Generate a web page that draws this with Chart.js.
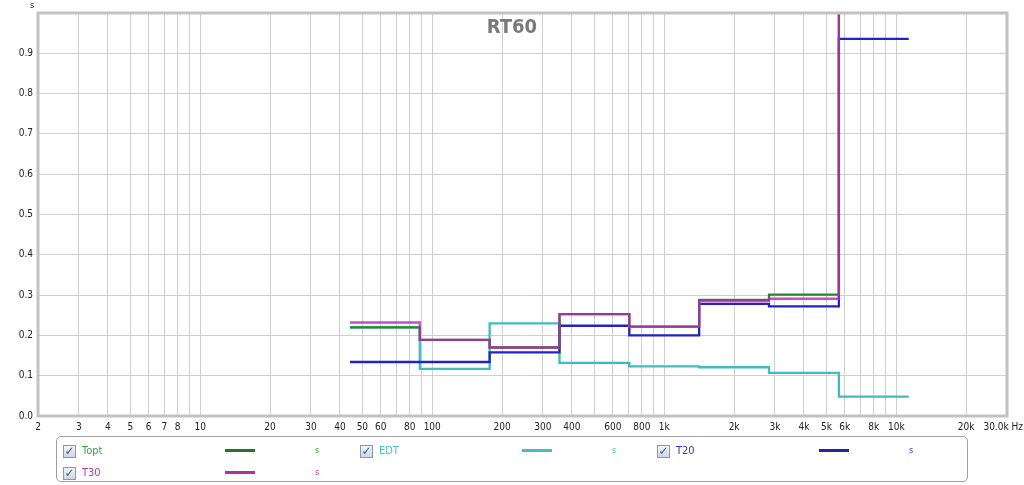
<!DOCTYPE html>
<html>
<head>
<meta charset="utf-8">
<title>RT60</title>
<script src="https://cdn.jsdelivr.net/npm/chart.js@4.4.1/dist/chart.umd.min.js"></script>
<style>
    html, body { margin: 0; padding: 0; background: #fff; }
    #wrap { position: relative; width: 1024px; height: 485px; overflow: hidden; }
    #chartRT60 { position: absolute; left: 0; top: 0; }
    .leyenda {
        position: absolute; left: 56px; top: 436px; width: 912px; height: 46px;
        border: 1px solid #a0a0a0; border-radius: 5px; box-sizing: border-box;
        font-family: "DejaVu Sans Condensed", "Liberation Sans Narrow", sans-serif;
    }
    .item { position: absolute; width: 280px; height: 14px; }
    .check {
        position: absolute; left: 0; top: 0; width: 11px; height: 11px;
        border: 1px solid #8b97a6; background: linear-gradient(#f1f4f7, #d0d7df);
        font-family: "DejaVu Sans", sans-serif; font-size: 12px; font-weight: bold; line-height: 11px;
        text-align: center; color: #2d5cb0;
    }
    .nombre { position: absolute; left: 19px; top: -1px; font-size: 11px; font-weight: 500; }
    .muestra { position: absolute; left: 162px; top: 4px; width: 30px; height: 3px; }
    .unidad { position: absolute; left: 252px; top: 0; font-size: 9px; }
</style>
</head>
<body>
<div id="wrap">
    <canvas id="chartRT60" width="1024" height="485"></canvas>
    <div class="leyenda" id="leyenda"></div>
</div>
<script>
// Bandas de octava (bordes en Hz) y valores RT60 en segundos
const bandEdges = [44.2, 88.4, 176.8, 353.6, 707.1, 1414, 2828, 5657, 11314];
const toptValues = [0.220, 0.189, 0.170, 0.253, 0.222, 0.288, 0.301, 1.60];
const edtValues  = [0.220, 0.117, 0.230, 0.132, 0.123, 0.121, 0.107, 0.048];
const t20Values  = [0.134, 0.134, 0.158, 0.224, 0.200, 0.278, 0.272, 0.936];
const t30Values  = [0.232, 0.189, 0.170, 0.253, 0.222, 0.285, 0.291, 1.60];

const xTicks = [2, 3, 4, 5, 6, 7, 8, 9, 10, 20, 30, 40, 50, 60, 70, 80, 90,
    100, 200, 300, 400, 500, 600, 700, 800, 900,
    1000, 2000, 3000, 4000, 5000, 6000, 7000, 8000, 9000, 10000, 20000, 30000];
const xTickLabels = ['2', '3', '4', '5', '6', '7', '8', '', '10', '20', '30', '40', '50', '60', '', '80', '',
    '100', '200', '300', '400', '', '600', '', '800', '',
    '1k', '2k', '3k', '4k', '5k', '6k', '', '8k', '', '10k', '20k', '30.0k'];
const xUnit = 'Hz';

const yTicks = [0, 0.1, 0.2, 0.3, 0.4, 0.5, 0.6, 0.7, 0.8, 0.9, 1.0];
const yTickLabels = ['0.0', '0.1', '0.2', '0.3', '0.4', '0.5', '0.6', '0.7', '0.8', '0.9', ''];
const yUnit = 's';

const series = [
    { nombre: 'Topt', valores: toptValues, linea: '#2b862b', muestra: '#2e6e2e', texto: '#3f9f3f', orden: 1 },
    { nombre: 'EDT',  valores: edtValues,  linea: '#3fbdbd', muestra: '#4cbcbc', texto: '#48c2c2', orden: 3 },
    { nombre: 'T20',  valores: t20Values,  linea: '#2323c4', muestra: '#24249c', texto: '#3434c0', orden: 2 },
    { nombre: 'T30',  valores: t30Values,  linea: 'rgba(182, 36, 182, 0.8)', muestra: '#b02cb0', texto: '#b03cb0', orden: 0 }
];

const FUENTE = '"DejaVu Sans Condensed", "Liberation Sans Narrow", sans-serif';

function escalones(valores) {
    const pts = valores.map((v, i) => ({ x: bandEdges[i], y: v }));
    pts.push({ x: bandEdges[valores.length], y: valores[valores.length - 1] });
    return pts;
}

// marco, título y unidades
const extrasRT60 = {
    id: 'extrasRT60',
    afterDatasetsDraw(chart) {
        const { ctx, chartArea: a } = chart;
        ctx.save();
        ctx.strokeStyle = '#c2c2c2';
        ctx.lineWidth = 3;
        ctx.strokeRect(a.left, a.top, a.right - a.left, a.bottom - a.top);

        ctx.fillStyle = '#7a7a7a';
        ctx.font = 'bold 20px ' + FUENTE;
        ctx.textAlign = 'center';
        ctx.textBaseline = 'middle';
        ctx.fillText('RT60', 512, 28);

        ctx.fillStyle = '#222';
        ctx.font = '9px ' + FUENTE;
        ctx.fillText(yUnit, 32, 6);

        ctx.font = '10px ' + FUENTE;
        ctx.textAlign = 'right';
        ctx.fillText(xTickLabels[xTickLabels.length - 1] + ' ' + xUnit, 1023, 427);
        ctx.restore();
    }
};

Chart.defaults.font.family = FUENTE;
Chart.defaults.font.size = 10;
Chart.defaults.color = '#222';

new Chart(document.getElementById('chartRT60'), {
    type: 'line',
    data: {
        datasets: series.map(s => ({
            label: s.nombre,
            data: escalones(s.valores),
            borderColor: s.linea,
            borderWidth: 2.3,
            pointRadius: 0,
            stepped: true,
            fill: false,
            order: s.orden
        }))
    },
    options: {
        responsive: false,
        animation: false,
        layout: { padding: { top: 13, right: 17, left: 0, bottom: 0 } },
        plugins: { legend: { display: false }, tooltip: { enabled: false } },
        scales: {
            x: {
                type: 'logarithmic',
                min: 2,
                max: 30000,
                afterBuildTicks: sc => { sc.ticks = xTicks.map(v => ({ value: v })); },
                afterFit: sc => { sc.height = 69; sc.paddingLeft = 0; sc.paddingRight = 0; },
                ticks: {
                    autoSkip: false, maxRotation: 0, minRotation: 0, padding: 5,
                    callback: (v, i) => (i === xTicks.length - 1 ? '' : xTickLabels[i])
                },
                grid: { color: '#cfcfcf', drawTicks: false },
                border: { display: false }
            },
            y: {
                min: 0,
                max: 1,
                afterBuildTicks: sc => { sc.ticks = yTicks.map(v => ({ value: v })); },
                afterFit: sc => { sc.width = 38; sc.paddingTop = 0; sc.paddingBottom = 0; },
                ticks: { padding: 5, callback: (v, i) => yTickLabels[i] },
                grid: { color: '#cfcfcf', drawTicks: false },
                border: { display: false }
            }
        }
    },
    plugins: [extrasRT60]
});

// leyenda con casillas, como en el programa original
const leyenda = document.getElementById('leyenda');
const posiciones = [[6, 8], [303, 8], [600, 8], [6, 30]];
leyenda.innerHTML = series.map((s, i) => `
    <div class="item" style="left:${posiciones[i][0]}px; top:${posiciones[i][1]}px;">
        <span class="check">&#10003;</span>
        <span class="nombre" style="color:${s.texto}">${s.nombre}</span>
        <span class="muestra" style="background:${s.muestra}"></span>
        <span class="unidad" style="color:${s.texto}">${yUnit}</span>
    </div>
`).join('');
</script>
</body>
</html>
